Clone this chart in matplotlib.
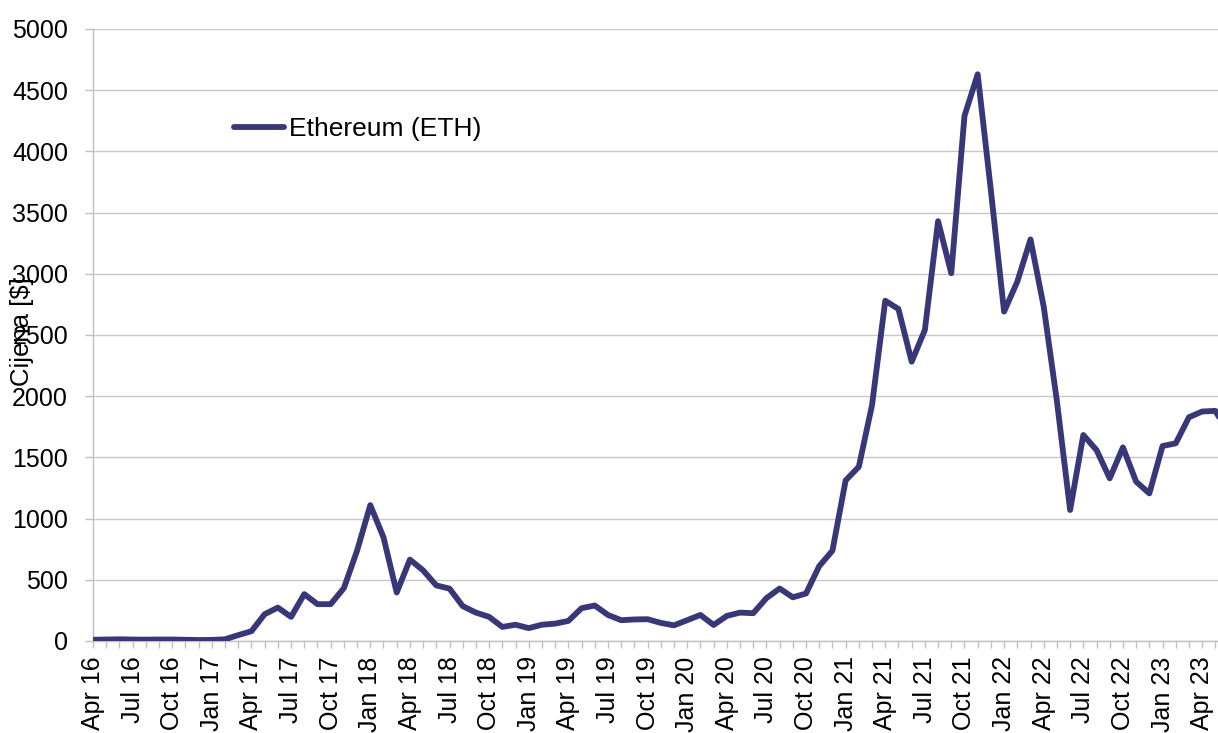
import pandas as pd
from matplotlib import pyplot as plt

# monthly ETH price, Apr 2016 .. Jun 2023
months = pd.date_range('2016-04-01', periods=87, freq='MS')
eth_price = [10, 12, 14, 12, 11, 12, 12, 10, 8, 9,
             14, 48, 80, 219, 273, 197, 383, 301, 301, 432,
             738, 1110, 847, 396, 665, 577, 454, 428, 285, 232,
             197, 115, 133, 105, 133, 142, 164, 268, 290, 213,
             170, 176, 178, 148, 128, 170, 213, 131, 205, 232,
             227, 350, 429, 357, 388, 612, 738, 1312, 1424, 1928,
             2780, 2712, 2282, 2541, 3430, 3004, 4290, 4630, 3680, 2691,
             2936, 3281, 2732, 1960, 1070, 1683, 1560, 1329, 1582, 1302,
             1206, 1593, 1615, 1828, 1875, 1880, 1700]
tick_labels = [m.strftime('%b %y') if m.month in (1, 4, 7, 10) else '' for m in months]

plt.rcParams['font.family'] = ['Liberation Sans', 'DejaVu Sans']
plt.rcParams['font.size'] = 18

fig = plt.figure(figsize=(12.18, 7.33), dpi=100)
ax = fig.add_axes([93 / 1218, 92 / 733, 1125 / 1218, 612 / 733])

x = range(len(eth_price))
ax.plot(x, eth_price, color='#383878', lw=4.2, label='Ethereum (ETH)',
        solid_capstyle='round', solid_joinstyle='round', zorder=3)

ax.set_yticks(range(0, 5001, 500))
ax.set_xticks(list(x))
ax.set_xticklabels(tick_labels, rotation=90, va='top', ha='center')
# limits after the ticks, set_xticks would widen them
ax.set_xlim(0, 85.2)
ax.set_ylim(0, 5000)

ax.grid(axis='y', color='#c8c8c8', lw=1.0)
ax.set_axisbelow(True)
for s in ['top', 'right']:
    ax.spines[s].set_visible(False)
for s in ['left', 'bottom']:
    ax.spines[s].set_color('#c0c0c0')
    ax.spines[s].set_linewidth(1.0)
ax.tick_params(axis='y', colors='#c0c0c0', labelcolor='black', length=6, width=1, pad=12)
ax.tick_params(axis='x', colors='#c0c0c0', labelcolor='black', length=5, width=1, pad=6)

ax.set_ylabel('Cijena [$]', fontsize=18.5)
ax.yaxis.set_label_coords(-0.052, 0.505)

ax.legend(loc='center left', bbox_to_anchor=(0.125, 0.837), frameon=False, fontsize=19,
          borderaxespad=0, borderpad=0, handlelength=1.9, handletextpad=0.2)

plt.savefig('out.png', dpi=100)
